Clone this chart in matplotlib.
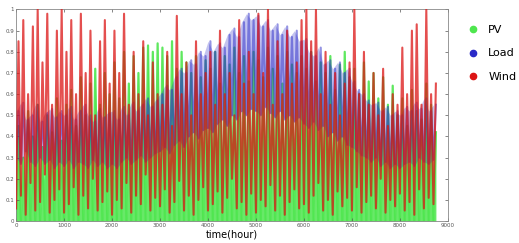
import numpy as np
import matplotlib.pyplot as plt
from matplotlib.lines import Line2D

plt.switch_backend('Agg')

# hourly profiles in 100 h blocks:
# *_low is the block minimum (at the start of the block), *_high the peak (mid block)
hours_low = np.arange(0, 8800, 100)
hours_high = hours_low + 50

pv_low = [0.0, 0.0, 0.0, 0.0, 0.0, 0.0, 0.0, 0.0, 0.0, 0.0,
          0.0, 0.0, 0.0, 0.0, 0.0, 0.0, 0.0, 0.0, 0.0, 0.0,
          0.0, 0.0, 0.0, 0.0, 0.0, 0.0, 0.0, 0.0, 0.0, 0.0,
          0.0, 0.0, 0.0, 0.0, 0.0, 0.0, 0.0, 0.0, 0.0, 0.0,
          0.0, 0.0, 0.0, 0.0, 0.0, 0.0, 0.0, 0.0, 0.0, 0.0,
          0.0, 0.0, 0.0, 0.0, 0.0, 0.0, 0.0, 0.0, 0.0, 0.0,
          0.0, 0.0, 0.0, 0.0, 0.0, 0.0, 0.0, 0.0, 0.0, 0.0,
          0.0, 0.0, 0.0, 0.0, 0.0, 0.0, 0.0, 0.0, 0.0, 0.0,
          0.0, 0.0, 0.0, 0.0, 0.0, 0.0, 0.0, 0.0]
pv_high = [0.45, 0.30, 0.52, 0.40, 0.55, 0.35, 0.50, 0.42, 0.58, 0.38,
           0.55, 0.62, 0.45, 0.68, 0.50, 0.65, 0.72, 0.55, 0.70, 0.60,
           0.75, 0.58, 0.80, 0.65, 0.78, 0.70, 0.82, 0.83, 0.80, 0.84,
           0.82, 0.78, 0.85, 0.72, 0.80, 0.75, 0.70, 0.78, 0.68, 0.76,
           0.72, 0.80, 0.65, 0.78, 0.74, 0.82, 0.70, 0.78, 0.66, 0.80,
           0.76, 0.68, 0.82, 0.72, 0.78, 0.65, 0.80, 0.74, 0.70, 0.78,
           0.72, 0.80, 0.66, 0.75, 0.70, 0.78, 0.62, 0.74, 0.80, 0.68,
           0.72, 0.60, 0.75, 0.66, 0.70, 0.58, 0.68, 0.55, 0.64, 0.50,
           0.58, 0.45, 0.62, 0.52, 0.48, 0.65, 0.55, 0.42]

load_low = [0.30, 0.27, 0.33, 0.28, 0.26, 0.30, 0.27, 0.29, 0.25, 0.28,
            0.26, 0.29, 0.25, 0.28, 0.27, 0.25, 0.29, 0.26, 0.28, 0.25,
            0.27, 0.25, 0.28, 0.30, 0.27, 0.29, 0.31, 0.28, 0.30, 0.32,
            0.33, 0.35, 0.32, 0.36, 0.38, 0.35, 0.40, 0.42, 0.39, 0.43,
            0.44, 0.42, 0.46, 0.48, 0.45, 0.50, 0.48, 0.52, 0.50, 0.53,
            0.52, 0.50, 0.54, 0.51, 0.49, 0.52, 0.48, 0.50, 0.47, 0.49,
            0.46, 0.44, 0.47, 0.43, 0.45, 0.40, 0.42, 0.38, 0.40, 0.36,
            0.35, 0.33, 0.31, 0.30, 0.28, 0.30, 0.26, 0.28, 0.25, 0.27,
            0.25, 0.27, 0.28, 0.26, 0.30, 0.28, 0.27, 0.29]
load_high = [0.52, 0.56, 0.48, 0.50, 0.55, 0.47, 0.51, 0.53, 0.49, 0.52,
             0.50, 0.54, 0.48, 0.52, 0.55, 0.50, 0.47, 0.53, 0.49, 0.51,
             0.52, 0.48, 0.54, 0.50, 0.56, 0.52, 0.55, 0.58, 0.54, 0.57,
             0.60, 0.64, 0.62, 0.68, 0.72, 0.70, 0.76, 0.74, 0.80, 0.78,
             0.85, 0.80, 0.84, 0.82, 0.88, 0.91, 0.87, 0.94, 0.98, 0.95,
             0.97, 0.92, 0.95, 0.90, 0.93, 0.88, 0.92, 0.87, 0.90, 0.85,
             0.86, 0.80, 0.78, 0.82, 0.74, 0.76, 0.72, 0.75, 0.70, 0.72,
             0.66, 0.62, 0.60, 0.57, 0.55, 0.56, 0.52, 0.54, 0.50, 0.52,
             0.50, 0.54, 0.52, 0.56, 0.53, 0.58, 0.52, 0.55]

wind_low = [0.06, 0.12, 0.03, 0.18, 0.05, 0.09, 0.22, 0.04, 0.10, 0.15,
            0.04, 0.08, 0.16, 0.03, 0.12, 0.06, 0.20, 0.05, 0.09, 0.14,
            0.03, 0.10, 0.06, 0.18, 0.04, 0.12, 0.08, 0.22, 0.05, 0.11,
            0.07, 0.15, 0.04, 0.09, 0.19, 0.05, 0.12, 0.03, 0.10, 0.16,
            0.05, 0.08, 0.14, 0.04, 0.11, 0.20, 0.06, 0.09, 0.03, 0.13,
            0.04, 0.10, 0.07, 0.17, 0.05, 0.12, 0.03, 0.09, 0.15, 0.06,
            0.08, 0.04, 0.12, 0.18, 0.05, 0.10, 0.03, 0.14, 0.07, 0.11,
            0.05, 0.16, 0.04, 0.09, 0.12, 0.06, 0.20, 0.04, 0.10, 0.07,
            0.13, 0.05, 0.09, 0.03, 0.15, 0.06, 0.11, 0.08]
wind_high = [0.85, 0.95, 0.60, 0.92, 1.00, 0.75, 0.98, 0.55, 0.90, 1.00,
             0.80, 0.95, 0.60, 0.98, 0.70, 0.90, 0.50, 0.85, 0.95, 0.65,
             0.90, 0.70, 0.98, 0.55, 0.80, 0.60, 0.85, 0.50, 0.75, 0.60,
             0.55, 0.80, 0.45, 0.97, 0.60, 0.75, 0.50, 0.85, 0.60, 0.70,
             0.80, 0.55, 0.90, 0.60, 0.70, 0.50, 0.95, 0.65, 0.80, 0.60,
             0.98, 0.70, 1.00, 0.55, 0.85, 0.60, 0.90, 0.65, 0.75, 0.95,
             1.00, 0.85, 1.00, 0.60, 0.80, 0.55, 0.70, 0.50, 0.65, 0.75,
             1.00, 0.60, 0.80, 0.55, 0.70, 0.50, 0.72, 0.45, 0.60, 0.55,
             0.82, 0.60, 0.90, 0.93, 0.55, 1.00, 0.60, 0.65]

series_names = ['PV', 'Load', 'Wind']
series_colors = ['#4ee64e', '#2a2ac8', '#dc1414']


def zigzag(lo, hi):
    # interleave block minima and peaks into one time series
    t = np.empty(2 * len(hours_low))
    v = np.empty(2 * len(hours_low))
    t[0::2], t[1::2] = hours_low, hours_high
    v[0::2], v[1::2] = lo, hi
    return t, v


fig = plt.figure(figsize=(5.19, 2.43), dpi=100)
ax = fig.add_axes([0.031, 0.09, 0.832, 0.871])

t_pv, v_pv = zigzag(pv_low, pv_high)
t_ld, v_ld = zigzag(load_low, load_high)
t_wd, v_wd = zigzag(wind_low, wind_high)

# PV underneath, load band over it, wind spikes on top
ax.fill_between(t_pv, 0, v_pv, color=series_colors[0], alpha=0.85, lw=0, zorder=1)
ax.plot(t_pv, v_pv, color=series_colors[0], lw=1.6, alpha=0.9, zorder=1)
ax.fill_between(hours_low, load_low, load_high, color=series_colors[1], alpha=0.28, lw=0, zorder=2)
ax.plot(t_ld, v_ld, color=series_colors[1], lw=1.5, alpha=0.5, zorder=2)
ax.plot(t_wd, v_wd, color=series_colors[2], lw=1.5, alpha=0.75, zorder=3)

ax.set_xlim(0, 9000)
ax.set_ylim(0, 1)
ax.set_xticks(np.arange(0, 9001, 1000))
ax.set_yticks(np.arange(0, 1.01, 0.1))
ax.set_yticklabels(['0', '0.1', '0.2', '0.3', '0.4', '0.5', '0.6', '0.7', '0.8', '0.9', '1'])
ax.tick_params(direction='in', length=2.5, width=0.5, labelsize=4, colors='#555555',
               top=True, right=True, pad=1.5)
for s in ax.spines.values():
    s.set_color('#888888')
    s.set_linewidth(0.6)
ax.set_xlabel('time(hour)', fontsize=7, labelpad=1)

handles = [Line2D([], [], marker='o', ls='', color=c, markersize=4.5) for c in series_colors]
fig.legend(handles, series_names, loc='upper left', bbox_to_anchor=(0.87, 0.94),
           frameon=False, fontsize=8, labelspacing=1.25, handletextpad=0.4)

fig.savefig('out.png', dpi=100)
